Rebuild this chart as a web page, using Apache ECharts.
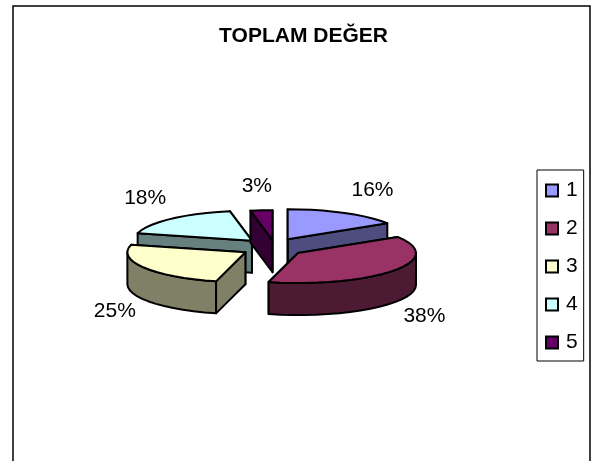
<!DOCTYPE html>
<html>
<head>
<meta charset="utf-8">
<style>
html,body{margin:0;padding:0;background:#fff}
#main{width:593px;height:461px}
</style>
<script src="https://cdn.jsdelivr.net/npm/echarts@6/dist/echarts.min.js"></script>
</head>
<body>
<div id="main"></div>
<script>
var titleText = 'TOPLAM DEĞER';
var categories = ['1', '2', '3', '4', '5'];
var values = [16, 38, 25, 18, 3];
var topColors = ['#9999FF', '#993366', '#FFFFCC', '#CCFFFF', '#660066'];
var sideColors = ['#4D4D80', '#4D1A33', '#808066', '#668080', '#330033'];
// back slices first, so the front ones cover them
var drawOrder = [0, 3, 4, 2, 1];

// flattened 3d pie, angles clockwise from top
var cx = 272.5, cy = 247.5;
var rx = 118, ry = 30;
var explodeX = 31.5, explodeY = 9.4;
// excel does not explode the slices quite evenly
var nudgeX = [0, 0, 0, 1, 3];
var nudgeY = [0, 0, 0, 0, 2];
var labelNudgeX = [0, 3, -1, 2, 2];
var labelNudgeY = [0, 2, 0, 2, -1];
var depth = 32;
var lineW = 2;

var total = 0;
for (var i = 0; i < values.length; i++) {
    total += values[i];
}

function rimPoint(c, deg, drop) {
    var a = deg * Math.PI / 180;
    return [c[0] + rx * Math.sin(a), c[1] - ry * Math.cos(a) + (drop || 0)];
}
function arcPoints(c, from, to, drop) {
    var pts = [];
    var n = Math.max(1, Math.ceil((to - from) / 6));
    for (var k = 0; k <= n; k++) {
        pts.push(rimPoint(c, from + (to - from) * k / n, drop));
    }
    return pts;
}
function poly(points, fill) {
    return {
        type: 'polygon',
        shape: {points: points},
        style: {fill: fill, stroke: '#000', lineWidth: lineW, lineJoin: 'round'}
    };
}
function cutFace(c, deg, fill) {
    var p = rimPoint(c, deg);
    return poly([c, p, [p[0], p[1] + depth], [c[0], c[1] + depth]], fill);
}

function sliceRenderer(idx) {
    var before = 0;
    for (var j = 0; j < idx; j++) {
        before += values[j];
    }
    return function (params, api) {
        var start = before / total * 360;
        var end = (before + api.value(0)) / total * 360;
        var mid = (start + end) / 2 * Math.PI / 180;
        var c = [
            cx + explodeX * Math.sin(mid) + nudgeX[idx],
            cy - explodeY * Math.cos(mid) + nudgeY[idx]
        ];
        var kids = [];

        kids.push(cutFace(c, end, sideColors[idx]));
        kids.push(cutFace(c, start, sideColors[idx]));

        // outer wall, only the near half of the rim shows
        var rimFrom = Math.max(start, 90), rimTo = Math.min(end, 270);
        if (rimTo > rimFrom) {
            var upper = arcPoints(c, rimFrom, rimTo, 0);
            var lower = arcPoints(c, rimFrom, rimTo, depth).reverse();
            kids.push(poly(upper.concat(lower), sideColors[idx]));
        }

        kids.push(poly([c].concat(arcPoints(c, start, end, 0)), topColors[idx]));

        var s = Math.sin(mid), co = Math.cos(mid);
        var dx = 28 * Math.max(-1, Math.min(1, s * 2.5));
        var dy = co > 0 ? -23 : 44;
        kids.push({
            type: 'text',
            style: {
                text: Math.round(api.value(0) / total * 100) + '%',
                x: c[0] + rx * s + dx + labelNudgeX[idx],
                y: c[1] - ry * co + dy + labelNudgeY[idx],
                fill: '#000',
                font: '21px "Liberation Sans"',
                textAlign: 'center',
                textVerticalAlign: 'middle'
            }
        });
        return {type: 'group', children: kids};
    };
}

var series = [];
for (var d = 0; d < drawOrder.length; d++) {
    var idx = drawOrder[d];
    series.push({
        name: categories[idx],
        type: 'custom',
        coordinateSystem: 'none',
        z: 2 + d,
        silent: true,
        renderItem: sliceRenderer(idx),
        itemStyle: {color: topColors[idx]},
        data: [[values[idx]]]
    });
}

var legendData = [];
for (var m = 0; m < categories.length; m++) {
    legendData.push({
        name: categories[m],
        icon: 'rect',
        itemStyle: {color: topColors[m], borderColor: '#000', borderWidth: 2}
    });
}

var myChart = echarts.init(document.getElementById('main'));
myChart.setOption({
    animation: false,
    backgroundColor: '#fff',
    textStyle: {fontFamily: '"Liberation Sans"'},
    title: {
        text: titleText,
        left: 298.5,
        top: 21,
        textAlign: 'center',
        textStyle: {fontFamily: '"Liberation Sans"', fontSize: 21, fontWeight: 'bold', color: '#000'}
    },
    legend: {
        orient: 'vertical',
        left: 537,
        top: 170,
        selectedMode: false,
        backgroundColor: '#fff',
        borderColor: '#000',
        borderWidth: 1,
        padding: [10, 6, 8, 8],
        itemWidth: 12,
        itemHeight: 12,
        itemGap: 17,
        textStyle: {fontFamily: '"Liberation Sans"', fontSize: 21, color: '#000', padding: [0, 0, 0, 3]},
        data: legendData
    },
    graphic: [{
        // chart frame, runs off the bottom of the page
        type: 'rect',
        silent: true,
        z: 0,
        shape: {x: 13, y: 6, width: 577, height: 480},
        style: {fill: 'none', stroke: '#000', lineWidth: 1.5}
    }],
    series: series
});
</script>
</body>
</html>
